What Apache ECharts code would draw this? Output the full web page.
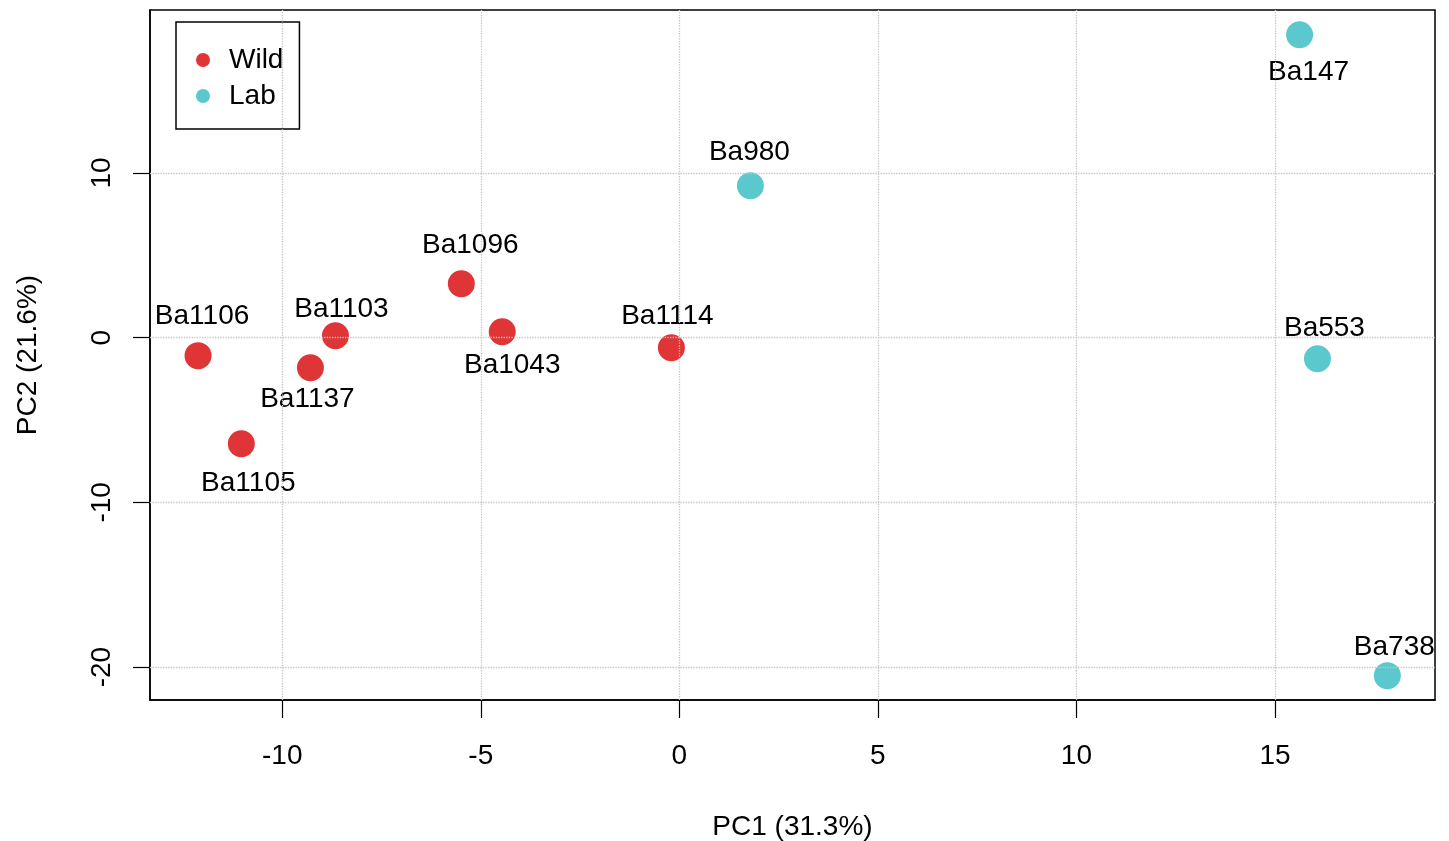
<!DOCTYPE html>
<html>
<head>
<meta charset="utf-8">
<script src="https://cdn.jsdelivr.net/npm/echarts@6/dist/echarts.min.js"></script>
<style>
html,body{margin:0;padding:0;background:#fff;}
#chart{width:1449px;height:841px;}
</style>
</head>
<body>
<div id="chart"></div>
<script>
// ---- data ----
const wildNames = ['Ba1106','Ba1105','Ba1137','Ba1103','Ba1096','Ba1043','Ba1114'];
const wildPC1   = [-12.12, -11.03, -9.29, -8.66, -5.49, -4.46, -0.20];
const wildPC2   = [-1.09, -6.44, -1.82, 0.12, 3.28, 0.36, -0.61];
const labNames  = ['Ba980','Ba147','Ba553','Ba738'];
const labPC1    = [1.79, 15.62, 16.07, 17.83];
const labPC2    = [9.23, 18.40, -1.28, -20.52];
const xTicks = [-10, -5, 0, 5, 10, 15];
const yTicks = [-20, -10, 0, 10];

// label placement relative to the point (pixels)
const labelShift = {
  Ba1106:[4,-39], Ba1105:[7,40], Ba1137:[-3,32], Ba1103:[6,-26],
  Ba1096:[9,-38], Ba1043:[10,34], Ba1114:[-4,-31],
  Ba980:[-1,-33], Ba147:[9,38], Ba553:[7,-31], Ba738:[7,-28]
};

const FONT = '"Liberation Sans", Arial, Helvetica, sans-serif';
const FS = 28;

function buildData(names, xs, ys) {
  return names.map((n, i) => ({
    name: n,
    value: [xs[i], ys[i]],
    label: { offset: labelShift[n] || [0, 0] }
  }));
}

const chart = echarts.init(document.getElementById('chart'), null, {renderer: 'canvas'});

const labelCommon = {
  show: true,
  position: 'inside',
  formatter: p => p.name,
  color: '#000',
  fontFamily: FONT,
  fontSize: FS,
  align: 'center',
  verticalAlign: 'middle'
};

const option = {
  animation: false,
  backgroundColor: '#fff',
  grid: {
    left: 150, right: 14, top: 10, bottom: 141,
    outerBoundsMode: 'none',
    containLabel: false,
    show: true, borderColor: '#000', borderWidth: 1.5, backgroundColor: '#fff'
  },
  legend: {
    orient: 'vertical',
    left: 176, top: 22,
    data: ['Wild', 'Lab'],
    icon: 'circle',
    itemWidth: 14, itemHeight: 14,
    itemGap: 6,
    padding: [23, 16, 18, 20],
    borderColor: '#000', borderWidth: 1.5,
    backgroundColor: '#fff',
    textStyle: { fontFamily: FONT, fontSize: FS, color: '#000', lineHeight: 30, padding: [0, 0, 0, 14] }
  },
  xAxis: {
    type: 'value',
    min: -13.33, max: 19.03,
    name: 'PC1 (31.3%)',
    nameLocation: 'middle',
    nameGap: 113,
    nameTextStyle: { fontFamily: FONT, fontSize: FS, color: '#000' },
    axisLine: { show: true, onZero: false, lineStyle: { color: '#000', width: 1.5 } },
    axisTick: { show: true, length: 18, customValues: xTicks, lineStyle: { color: '#000', width: 1.2 } },
    axisLabel: { customValues: xTicks, margin: 42, fontFamily: FONT, fontSize: FS, color: '#000' },
    splitLine: { show: false }
  },
  yAxis: {
    type: 'value',
    min: -22.0, max: 19.9,
    name: 'PC2 (21.6%)',
    nameLocation: 'middle',
    nameGap: 108,
    nameRotate: 90,
    nameTextStyle: { fontFamily: FONT, fontSize: FS, color: '#000' },
    axisLine: { show: true, onZero: false, lineStyle: { color: '#000', width: 1.5 } },
    axisTick: { show: true, length: 17, customValues: yTicks, lineStyle: { color: '#000', width: 1.2 } },
    axisLabel: { customValues: yTicks, rotate: 90, margin: 34, fontFamily: FONT, fontSize: FS, color: '#000' },
    splitLine: { show: false }
  },
  series: [
    {
      name: 'Wild',
      type: 'scatter',
      symbol: 'circle',
      symbolSize: 27,
      itemStyle: { color: '#DF3536', opacity: 1 },
      label: labelCommon,
      data: buildData(wildNames, wildPC1, wildPC2),
      markLine: {
        silent: true,
        symbol: ['none', 'none'],
        label: { show: false },
        lineStyle: { color: '#c4c4c4', type: 'dotted', width: 1.3 },
        data: xTicks.map(v => ({ xAxis: v })).concat(yTicks.map(v => ({ yAxis: v })))
      }
    },
    {
      name: 'Lab',
      type: 'scatter',
      symbol: 'circle',
      symbolSize: 27,
      itemStyle: { color: '#5BC8CD', opacity: 1 },
      label: labelCommon,
      data: buildData(labNames, labPC1, labPC2)
    }
  ]
};
chart.setOption(option);
</script>
</body>
</html>
